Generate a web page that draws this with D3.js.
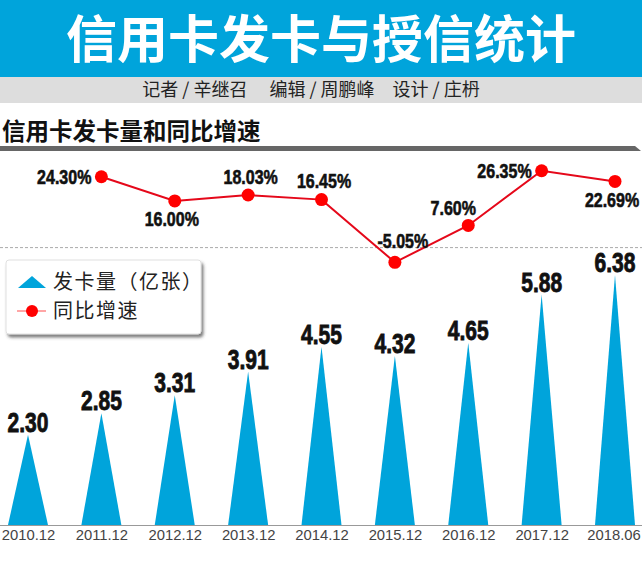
<!DOCTYPE html>
<html><head><meta charset="utf-8">
<script src="https://cdn.jsdelivr.net/npm/d3@7"></script>
<style>body{margin:0;background:#fff;overflow:hidden}</style>
</head><body><svg id="c" width="642" height="561"></svg>
<script>
// ---- data ----
const categories = ["2010.12","2011.12","2012.12","2013.12","2014.12","2015.12","2016.12","2017.12","2018.06"];
const cardCounts = [2.30, 2.85, 3.31, 3.91, 4.55, 4.32, 4.65, 5.88, 6.38];
const growthCategories = ["2011.12","2012.12","2013.12","2014.12","2015.12","2016.12","2017.12","2018.06"];
const growthRates = [24.30, 16.00, 18.03, 16.45, -5.05, 7.60, 26.35, 22.69];
const growthLabelPlacement = ["left","below","above","above","aboveRight","aboveLeft","left","below"];
const titleText = "信用卡发卡与授信统计";
const creditText = "记者 / 辛继召　 编辑 / 周鹏峰　设计 / 庄枬";
const sectionTitle = "信用卡发卡量和同比增速";
const legendLabels = ["发卡量（亿张）", "同比增速"];

// ---- style ----
const BLUE = "#00a4db";
const RED_LINE = "#e5081a";
const RED_DOT = "#ff0000";
const NUM_FONT = "'Liberation Sans',Arial,sans-serif";
const CJK = "'Noto Sans CJK SC','Noto Sans',sans-serif";
const placeCfg = {
  left:       {anchor:"end",    dx:-10, dy:7},
  below:      {anchor:"middle", dx:-3,  dy:25.5},
  above:      {anchor:"middle", dx:2.5, dy:-11.5},
  aboveRight: {anchor:"middle", dx:8,   dy:-14},
  aboveLeft:  {anchor:"middle", dx:-15, dy:-10}
};

const svg = d3.select("#c");
const W = 642, H = 561;

// defs: shadow
const defs = svg.append("defs");
const f = defs.append("filter").attr("id","sh").attr("x","-10%").attr("y","-10%").attr("width","130%").attr("height","140%");
f.append("feDropShadow").attr("dx",2).attr("dy",3).attr("stdDeviation",1.5).attr("flood-color","#444").attr("flood-opacity",0.7);

// header
svg.append("rect").attr("x",0).attr("y",0).attr("width",W).attr("height",77).attr("fill",BLUE);
svg.append("text").attr("x",321).attr("y",58).attr("text-anchor","middle")
  .attr("font-family",CJK).attr("font-weight",700).attr("font-size",51).attr("fill","#fff").text(titleText);
svg.append("rect").attr("x",0).attr("y",77).attr("width",W).attr("height",26).attr("fill","#dddddd");
svg.append("text").attr("x",311).attr("y",96).attr("text-anchor","middle").style("white-space","pre")
  .attr("font-family",CJK).attr("font-size",18).attr("fill","#222").text(creditText);

// section title
svg.append("text").attr("x",2).attr("y",140).attr("font-family",CJK).attr("font-weight",700)
  .attr("font-size",23.5).attr("fill","#111").text(sectionTitle);
svg.append("path").attr("d","M0,146 L635,146 L641,151 L0,151 Z").attr("fill","#666");

// scales
const x = d3.scalePoint().domain(categories).range([28, 615]);
const yBar = d3.scaleLinear().domain([0, 7]).range([525, 525 - 7*39.2]);
const yRate = d3.scaleLinear().domain([0, 30]).range([247.6, 247.6 - 87.5]);

// zero line for growth
svg.append("line").attr("x1",0).attr("x2",W).attr("y1",yRate(0)).attr("y2",yRate(0))
  .attr("stroke","#aaa").attr("stroke-width",1).attr("stroke-dasharray","3,2");

// triangles
const half = 20;
svg.append("g").selectAll("path").data(cardCounts).join("path")
  .attr("d",(d,i)=>{const cx=x(categories[i]);return `M${cx-half},${yBar(0)} L${cx},${yBar(d)} L${cx+half},${yBar(0)} Z`;})
  .attr("fill",BLUE);
svg.append("g").selectAll("text").data(cardCounts).join("text")
  .attr("transform",(d,i)=>`translate(${x(categories[i])},${yBar(d)-3}) scale(0.75,1)`)
  .attr("text-anchor","middle")
  .attr("font-family",NUM_FONT).attr("font-weight",700).attr("font-size",28).attr("fill","#111")
  .attr("stroke","#111").attr("stroke-width",0.9)
  .text(d=>d.toFixed(2));

// x axis
const axis = svg.append("g").attr("transform",`translate(0,${yBar(0)})`)
  .call(d3.axisBottom(x).tickSize(0).tickPadding(4.5));
axis.select(".domain").remove();
axis.selectAll("text").attr("font-family","'Liberation Sans',Arial,sans-serif").attr("font-size",14.8).attr("fill","#444")
  .attr("dx",(d,i)=>i===categories.length-1?-1.5:0);
svg.append("line").attr("x1",0).attr("x2",W).attr("y1",yBar(0)+0.5).attr("y2",yBar(0)+0.5).attr("stroke","#999");

// growth line
const pts = growthRates.map((v,i)=>[x(growthCategories[i]), yRate(v)]);
svg.append("path").attr("d",d3.line()(pts)).attr("fill","none").attr("stroke",RED_LINE).attr("stroke-width",2);
svg.append("g").selectAll("circle").data(pts).join("circle")
  .attr("cx",d=>d[0]).attr("cy",d=>d[1]).attr("r",6.5).attr("fill",RED_DOT);
svg.append("g").selectAll("text").data(growthRates).join("text")
  .attr("transform",(d,i)=>{const c=placeCfg[growthLabelPlacement[i]];return `translate(${pts[i][0]+c.dx},${pts[i][1]+c.dy}) scale(0.8,1)`;})
  .attr("text-anchor",(d,i)=>placeCfg[growthLabelPlacement[i]].anchor)
  .attr("font-family",NUM_FONT).attr("font-weight",700).attr("font-size",20).attr("fill","#111")
  .attr("stroke","#111").attr("stroke-width",0.6)
  .text(d=>d.toFixed(2)+"%");

// legend
const lg = svg.append("g");
lg.append("rect").attr("x",6).attr("y",260).attr("width",195).attr("height",74).attr("rx",3)
  .attr("fill","#fff").attr("stroke","#e0e0e0").attr("filter","url(#sh)");
lg.append("path").attr("d","M18,288 L32,276 L46,288 Z").attr("fill",BLUE);
lg.append("line").attr("x1",17).attr("x2",46).attr("y1",311).attr("y2",311).attr("stroke","#ff6b6b").attr("stroke-width",1.2);
lg.append("circle").attr("cx",32).attr("cy",311).attr("r",6).attr("fill",RED_DOT);
lg.selectAll("text.l").data(legendLabels).join("text").attr("class","l")
  .attr("x",53).attr("y",(d,i)=>i===0?282:311).attr("dy","0.36em").attr("letter-spacing",1.5)
  .attr("font-family",CJK).attr("font-size",20).attr("fill","#222").text(d=>d);
</script></body></html>
